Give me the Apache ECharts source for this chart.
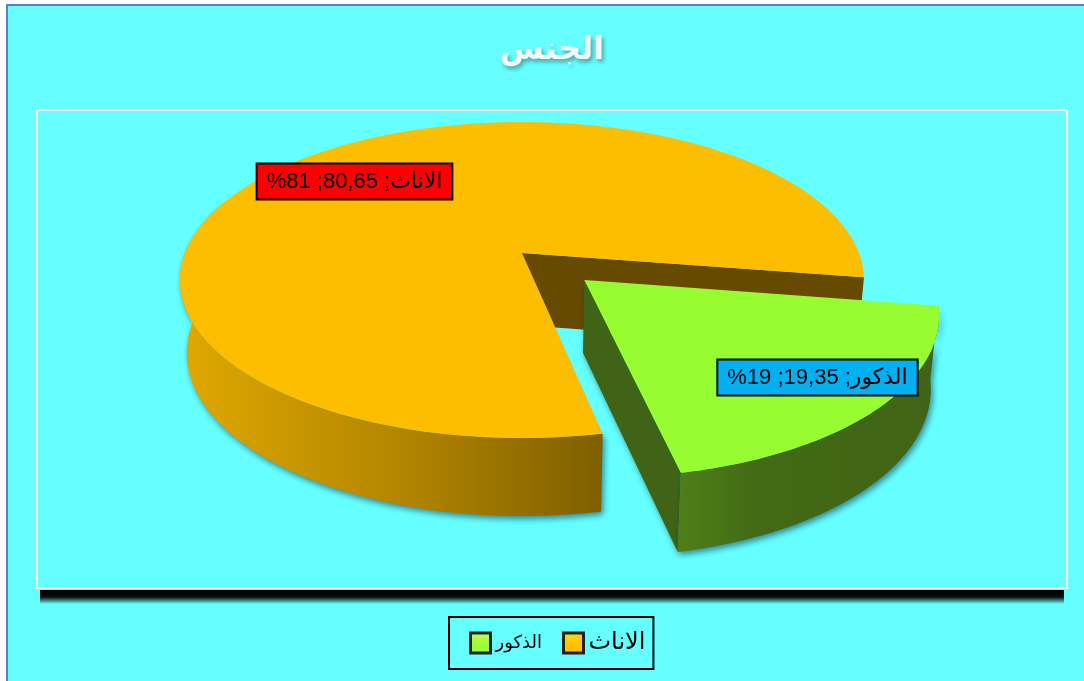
<!DOCTYPE html>
<html>
<head>
<meta charset="utf-8">
<title>الجنس</title>
<style>
  html, body { margin: 0; padding: 0; background: #fff; }
  #chart { width: 1084px; height: 681px; }
</style>
</head>
<body>
<div id="chart"></div>
<script src="https://cdn.jsdelivr.net/npm/echarts@6/dist/echarts.min.js"></script>
<script>
const chartTitle = 'الجنس'
const categories = ['الاناث', 'الذكور']
const values = [80.65, 19.35]
const percents = [81, 19]

const legendOrder = ['الذكور', 'الاناث']

const topColors = ['#FDBE00', '#97FD30']
const legendColors = {'الاناث': ['#FFE000', '#FFC000'], 'الذكور': ['#C0FF60', '#99FF33']}
const labelColors = ['#FF0000', '#00B0F0']

// pie layout, the view is a perspective one so the near side is drawn bigger
const view = {cx: 522, cy: 253, a: 337, b: 153.4, k: 0.1709, bottomY: 325, bottomXScale: 0.98, bottomYScale: 1.0327}
const firstAngle = 168.5
const explode = [0, 0.248]
const labelPos = [[354.5, 181.5], [817.5, 377.5]]

const total = values.reduce((s, v) => s + v, 0)
const rad = d => d * Math.PI / 180

const sliceRange = (index) => {
  let start = firstAngle
  for (let i = 0; i < index; i++) start += values[i] / total * 360
  return [start, start + values[index] / total * 360]
}

const project = (u, v, isBottom) => {
  const w = 1 - view.k * v
  const x = view.a * u / w
  const y = view.b * v / w
  if (isBottom) return [view.cx + x * view.bottomXScale, view.bottomY + y * view.bottomYScale]
  return [view.cx + x, view.cy + y]
}

const renderSlice = (params, api) => {
  const index = params.seriesIndex
  const [start, end] = sliceRange(index)
  const mid = rad((start + end) / 2)
  const du = Math.sin(mid) * explode[index]
  const dv = -Math.cos(mid) * explode[index]
  const rim = (deg, isBottom) => project(Math.sin(rad(deg)) + du, -Math.cos(rad(deg)) + dv, isBottom)
  const apexTop = project(du, dv, false)
  const apexBottom = project(du, dv, true)

  const topFace = [apexTop]
  for (let d = start; d < end; d += 1) topFace.push(rim(d, false))
  topFace.push(rim(end, false))

  // only the front of the outer wall can be seen
  const wallEnd = index === 0 ? 290 : end
  const wallTop = []
  const wallBottom = []
  for (let d = start; d < wallEnd; d += 1) {
    wallTop.push(rim(d, false))
    wallBottom.unshift(rim(d, true))
  }
  wallTop.push(rim(wallEnd, false))
  wallBottom.unshift(rim(wallEnd, true))

  const shadow = {shadowBlur: 6, shadowColor: 'rgba(0,40,50,0.55)', shadowOffsetX: 2, shadowOffsetY: 3}
  const children = []
  if (index === 0) {
    children.push({
      type: 'polygon',
      shape: {points: wallTop.concat(wallBottom)},
      style: {
        fill: new echarts.graphic.LinearGradient(0, 0, 1, 0, [
          {offset: 0, color: '#E0A800'},
          {offset: 0.55, color: '#B08400'},
          {offset: 1, color: '#7F5F00'}
        ]),
        ...shadow
      }
    })
    children.push({
      type: 'polygon',
      shape: {points: [apexTop, rim(end, false), rim(end, true), apexBottom]},
      style: {fill: '#654A00'}
    })
  } else {
    children.push({
      type: 'polygon',
      shape: {points: [apexTop, rim(end, false), rim(end, true), apexBottom]},
      style: {fill: '#3F6415', ...shadow}
    })
    children.push({
      type: 'polygon',
      shape: {points: wallTop.concat(wallBottom)},
      style: {
        fill: new echarts.graphic.LinearGradient(0, 0, 1, 0, [
          {offset: 0, color: '#4F7F18'},
          {offset: 0.3, color: '#436A16'},
          {offset: 1, color: '#3F6415'}
        ]),
        ...shadow
      }
    })
  }
  children.push({
    type: 'polygon',
    shape: {points: topFace},
    style: {fill: topColors[index]}
  })
  children.push({
    type: 'text',
    z2: 10,
    style: {
      x: labelPos[index][0],
      y: labelPos[index][1],
      text: `${categories[index]}; ${String(api.value(0)).replace('.', ',')}; ${percents[index]}%\u200F`,
      font: '22px "Liberation Sans", "DejaVu Sans", sans-serif',
      fill: '#000',
      align: 'center',
      verticalAlign: 'middle',
      backgroundColor: labelColors[index],
      borderColor: '#000',
      borderWidth: 2,
      padding: [6, 9]
    }
  })
  return {type: 'group', children}
}

const chart = echarts.init(document.getElementById('chart'), null, {renderer: 'canvas'})

chart.setOption({
  animation: false,
  backgroundColor: '#fff',
  title: {
    text: chartTitle,
    left: 547,
    top: 30,
    textAlign: 'center',
    textStyle: {
      color: '#F4F8F8',
      fontSize: 32,
      fontWeight: 'bold',
      fontFamily: '"DejaVu Sans", sans-serif',
      textShadowColor: 'rgba(0,0,0,0.35)',
      textShadowBlur: 4,
      textShadowOffsetX: 2,
      textShadowOffsetY: 3
    }
  },
  legend: {
    left: 449,
    top: 617,
    icon: 'rect',
    itemWidth: 20,
    itemHeight: 20,
    itemGap: 20,
    padding: [14, 8, 14, 20],
    backgroundColor: '#66FFFF',
    borderColor: '#000',
    borderWidth: 2,
    selectedMode: false,
    data: legendOrder.map(name => ({
      name,
      itemStyle: {
        borderColor: '#222',
        borderWidth: 3,
        color: new echarts.graphic.LinearGradient(0, 0, 0, 1, [
          {offset: 0, color: legendColors[name][0]},
          {offset: 0.6, color: legendColors[name][1]},
          {offset: 1, color: legendColors[name][1]}
        ])
      }
    })),
    formatter: name => `{${name === categories[0] ? 'big' : 'small'}|${name}}`,
    textStyle: {
      color: '#000',
      fontFamily: '"DejaVu Sans", sans-serif',
      rich: {
        big: {fontSize: 24, fontFamily: '"DejaVu Sans", sans-serif', color: '#000'},
        small: {fontSize: 18, fontFamily: '"DejaVu Sans", sans-serif', color: '#000'}
      }
    }
  },
  graphic: [
    {
      type: 'rect',
      z: -10,
      silent: true,
      shape: {x: 7, y: 5, width: 1090, height: 690},
      style: {fill: '#66FFFF', stroke: '#5B7FC0', lineWidth: 2}
    },
    {
      // soft edge of the plot shadow
      type: 'rect',
      z: -9.5,
      silent: true,
      shape: {x: 40, y: 590, width: 1024, height: 14},
      style: {
        fill: new echarts.graphic.LinearGradient(0, 0, 0, 1, [
          {offset: 0, color: 'rgba(0,0,0,1)'},
          {offset: 0.5, color: 'rgba(0,0,0,0.95)'},
          {offset: 1, color: 'rgba(0,0,0,0)'}
        ])
      }
    },
    {
      type: 'rect',
      z: -9,
      silent: true,
      shape: {x: 36, y: 118, width: 1032, height: 470},
      style: {
        fill: new echarts.graphic.LinearGradient(0, 0, 1, 0, [
          {offset: 0, color: 'rgba(0,60,70,0)'},
          {offset: 0.003, color: 'rgba(0,60,70,0.6)'},
          {offset: 0.997, color: 'rgba(0,60,70,0.6)'},
          {offset: 1, color: 'rgba(0,60,70,0)'}
        ])
      }
    },
    {
      type: 'rect',
      z: -8,
      silent: true,
      shape: {x: 37, y: 110, width: 1030, height: 478},
      style: {fill: '#66FFFF', stroke: '#fff', lineWidth: 2}
    }
  ],
  series: categories.map((name, i) => ({
    type: 'custom',
    name,
    coordinateSystem: 'none',
    silent: true,
    itemStyle: {color: topColors[i]},
    renderItem: renderSlice,
    data: [[values[i]]]
  }))
})

window.addEventListener('resize', () => chart.resize())
</script>
</body>
</html>
